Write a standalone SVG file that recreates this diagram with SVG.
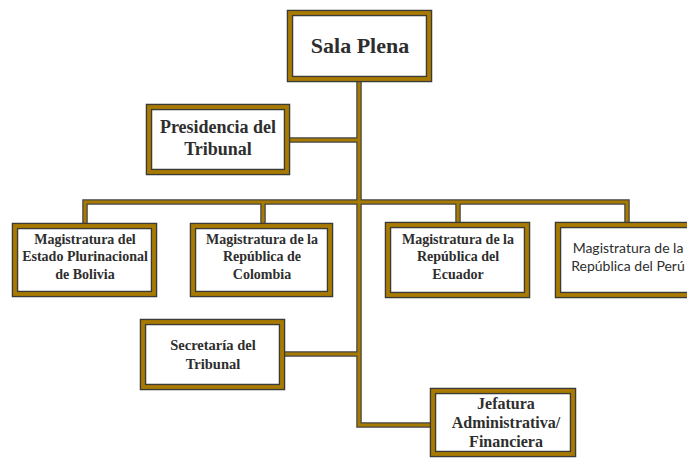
<svg xmlns="http://www.w3.org/2000/svg" width="687" height="458" viewBox="0 0 687 458">
<style>
.box{fill:#fff;stroke:#3a3a3a;stroke-width:6.5}
.boxg{fill:none;stroke:#A87B00;stroke-width:3.8}
.cd{fill:none;stroke:#444;stroke-width:5.5}
.cg{fill:none;stroke:#A87B00;stroke-width:3}
text{font-family:"Liberation Serif","Times New Roman",serif;font-weight:bold;fill:#2e2e2e;text-anchor:middle}
.s{font-family:Lato,"Liberation Sans",sans-serif;font-weight:normal}
</style>
<rect width="687" height="458" fill="#fff"/>
<g id="connectors">
<path class="cd" d="M359 80 V425 H432 M288 140 H359 M85 224 V202 H627 V224 M263 202 V224 M458 202 V224 M283 354 H359"/>
<path class="cg" d="M359 80 V425 H432 M288 140 H359 M85 224 V202 H627 V224 M263 202 V224 M458 202 V224 M283 354 H359"/>
</g>
<g id="sala-plena">
<rect class="box" x="290" y="13" width="139" height="66"/><rect class="boxg" x="290" y="13" width="139" height="66"/>
<text x="360" y="53" font-size="22">Sala Plena</text>
</g>
<g id="presidencia">
<rect class="box" x="149" y="107" width="138" height="65"/><rect class="boxg" x="149" y="107" width="138" height="65"/>
<text x="218" y="133" font-size="18">Presidencia del</text>
<text x="218" y="155" font-size="18">Tribunal</text>
</g>
<g id="bolivia">
<rect class="box" x="15" y="226" width="139" height="68"/><rect class="boxg" x="15" y="226" width="139" height="68"/>
<text x="85" y="244" font-size="14">Magistratura del</text>
<text x="85" y="261" font-size="14">Estado Plurinacional</text>
<text x="85" y="279" font-size="14">de Bolivia</text>
</g>
<g id="colombia">
<rect class="box" x="193" y="226" width="137" height="68"/><rect class="boxg" x="193" y="226" width="137" height="68"/>
<text x="262" y="244" font-size="14">Magistratura de la</text>
<text x="262" y="261" font-size="14">República de</text>
<text x="262" y="279" font-size="14">Colombia</text>
</g>
<g id="ecuador">
<rect class="box" x="388" y="225" width="139" height="70"/><rect class="boxg" x="388" y="225" width="139" height="70"/>
<text x="458" y="244" font-size="14">Magistratura de la</text>
<text x="458" y="261" font-size="14">República del</text>
<text x="458" y="279" font-size="14">Ecuador</text>
</g>
<g id="peru">
<rect class="box" x="558" y="225" width="142" height="70"/><rect class="boxg" x="558" y="225" width="142" height="70"/>
<text class="s" x="628" y="253" font-size="14">Magistratura de la</text>
<text class="s" x="628" y="271" font-size="14">República del Perú</text>
</g>
<g id="secretaria">
<rect class="box" x="143" y="322" width="139" height="65"/><rect class="boxg" x="143" y="322" width="139" height="65"/>
<text x="213" y="350" font-size="14.5">Secretaría del</text>
<text x="213" y="369" font-size="14.5">Tribunal</text>
</g>
<g id="jefatura">
<rect class="box" x="433" y="391" width="140" height="63"/><rect class="boxg" x="433" y="391" width="140" height="63"/>
<text x="506" y="409" font-size="16">Jefatura</text>
<text x="506" y="428" font-size="16">Administrativa/</text>
<text x="506" y="447" font-size="16">Financiera</text>
</g>
</svg>
